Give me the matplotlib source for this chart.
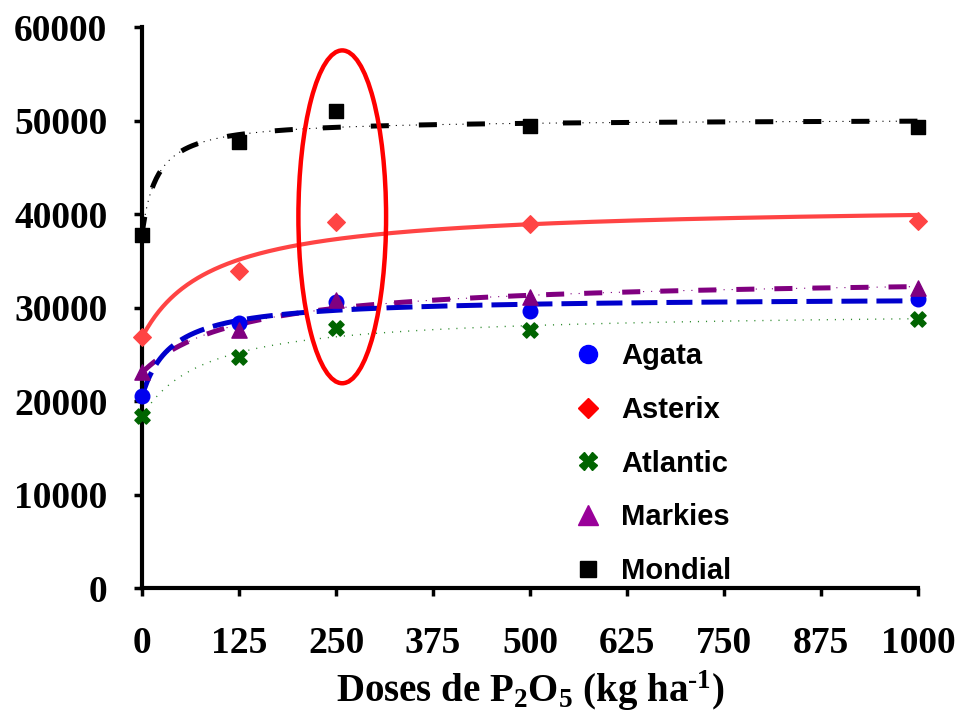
import numpy as np
import matplotlib
matplotlib.use("Agg")
import matplotlib.pyplot as plt
from matplotlib.patches import Ellipse
from matplotlib.lines import Line2D

plt.rcParams['mathtext.fontset'] = 'custom'
plt.rcParams['mathtext.rm'] = 'Liberation Serif:bold'
plt.rcParams['mathtext.bf'] = 'Liberation Serif:bold'
plt.rcParams['mathtext.it'] = 'Liberation Serif:bold'
plt.rcParams['mathtext.default'] = 'rm'
plt.rcParams['lines.scale_dashes'] = False

doses = [0, 125, 250, 500, 1000]
agata = [20500, 28300, 30600, 29600, 30900]
asterix = [26900, 33900, 39100, 38900, 39250]
atlantic = [18400, 24700, 27800, 27600, 28800]
markies = [23100, 27600, 30800, 31100, 32100]
mondial = [37800, 47700, 51000, 49400, 49300]
xticks = [0, 125, 250, 375, 500, 625, 750, 875, 1000]
yticks = [0, 10000, 20000, 30000, 40000, 50000, 60000]


def fit_curve(x, y):
    x = np.asarray(x, float)
    y = np.asarray(y, float)
    best = None
    for k in np.linspace(1, 600, 1200):
        A = np.column_stack([np.ones_like(x), x / (k + x)])
        coef, *_ = np.linalg.lstsq(A, y, rcond=None)
        err = np.sum((A @ coef - y) ** 2)
        if best is None or err < best[0]:
            best = (err, k, coef)
    _, k, coef = best
    xs = np.linspace(0, 1000, 600)
    return xs, coef[0] + coef[1] * xs / (k + xs)


fig = plt.figure(figsize=(9.61, 7.15), dpi=100)
ax = fig.add_axes([0.1478, 0.1776, 0.8075, 0.7846])

# curves
xs, ys = fit_curve(doses, mondial)
ax.plot(xs, ys, color='black', lw=0.8, ls=(0, (0.8, 4)), zorder=2)
ax.plot(xs, ys, color='black', lw=3.6, ls=(0, (13, 21.6)), zorder=2)

xs, ys = fit_curve(doses, asterix)
ax.plot(xs, ys, color='#FF4444', lw=3.0, zorder=2)

xs, ys = fit_curve(doses, atlantic)
ax.plot(xs, ys, color='#2E8B2E', lw=1.0, ls=(0, (0.8, 5)), zorder=2)

xs, ys = fit_curve(doses, markies)
ax.plot(xs, ys, color='#800080', lw=0.8, ls=(0, (0.8, 5)), zorder=2)
ax.plot(xs, ys, color='#800080', lw=3.6, ls=(0, (13, 14.4)), zorder=2)

xs, ys = fit_curve(doses, agata)
ax.plot(xs, ys, color='#0000CC', lw=3.6, ls=(0, (18.7, 6.5)), zorder=2)

# points
ax.scatter(doses, agata, marker='o', s=110, color='#0000EE', zorder=3, clip_on=False)
ax.scatter(doses, asterix, marker='D', s=80, color='#FF4444', zorder=3, clip_on=False)
ax.scatter(doses, atlantic, marker='X', s=120, color='#006400', zorder=3, clip_on=False)
ax.scatter(doses, markies, marker='^', s=120, color='#800080', zorder=3, clip_on=False)
ax.scatter(doses, mondial, marker='s', s=100, color='black', zorder=3, clip_on=False)

# highlight ellipse
ax.add_patch(Ellipse((258, 39700), 113, 35600, fill=False, edgecolor='#FF0000',
                     lw=3.2, zorder=4))

ax.set_xlim(0, 1000)
ax.set_ylim(0, 60000)
ax.set_xticks(xticks)
ax.set_yticks(yticks)
for s in ['top', 'right']:
    ax.spines[s].set_visible(False)
for s in ['left', 'bottom']:
    ax.spines[s].set_linewidth(3)
ax.tick_params(axis='both', direction='out', length=6, width=2.5)
ax.tick_params(axis='x', pad=21)
ax.tick_params(axis='y', pad=19)
for lab in ax.get_xticklabels() + ax.get_yticklabels():
    lab.set_fontfamily('Liberation Serif')
    lab.set_fontweight('bold')
    lab.set_fontsize(27)

ax.set_xlabel(r'Doses de P$_{2}$O$_{5}$ (kg ha$^{\text{-}1}$)', fontfamily='Liberation Serif',
              fontweight='bold', fontsize=28, labelpad=6)

handles = [
    Line2D([], [], ls='none', marker='o', ms=13, color='#0000FF'),
    Line2D([], [], ls='none', marker='D', ms=10, color='#FF0000'),
    Line2D([], [], ls='none', marker='X', ms=12.5, color='#006400'),
    Line2D([], [], ls='none', marker='^', ms=14, color='#990099'),
    Line2D([], [], ls='none', marker='s', ms=12, color='black'),
]
labels = ['Agata', 'Asterix', 'Atlantic', 'Markies', 'Mondial']
leg = ax.legend(handles, labels, loc='upper left', bbox_to_anchor=(0.518, 0.485),
                frameon=False, prop={'family': 'Liberation Sans', 'weight': 'bold', 'size': 21},
                labelspacing=0.88, handletextpad=0.55, handlelength=1.2)

fig.savefig('out.png', dpi=100)
